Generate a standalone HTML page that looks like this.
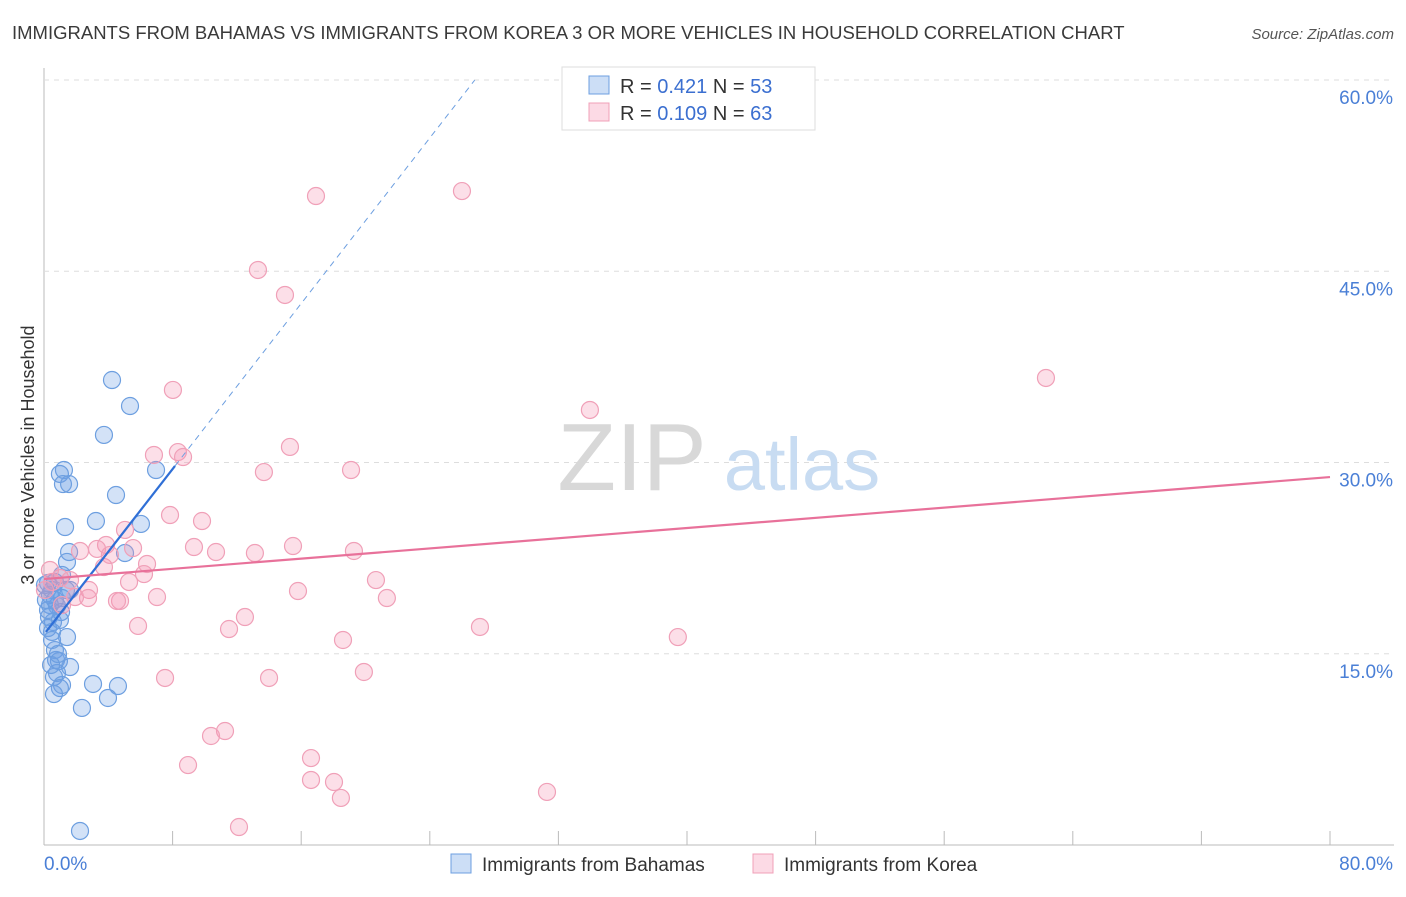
<!DOCTYPE html>
<html><head><meta charset="utf-8"><style>
body{margin:0;background:#fff;font-family:"Liberation Sans",sans-serif}
svg text{font-family:"Liberation Sans",sans-serif}
</style></head><body>
<svg id="chart" width="1406" height="892" viewBox="0 0 1406 892">
<text x="12" y="39" font-size="18.5" fill="#3a3a3a">IMMIGRANTS FROM BAHAMAS VS IMMIGRANTS FROM KOREA 3 OR MORE VEHICLES IN HOUSEHOLD CORRELATION CHART</text>
<text x="1394" y="39" font-size="15" fill="#555" font-style="italic" text-anchor="end">Source: ZipAtlas.com</text>
<g id="grid"></g>
<g>
<text x="632" y="490" font-size="96" fill="#d8d8d8" font-family="Liberation Serif" text-anchor="middle">ZIP</text>
<text x="802" y="490" font-size="74" fill="#c8dcf2" text-anchor="middle">atlas</text>
</g>
<g id="pts"></g>
<g id="lines"></g>
<text transform="translate(34,455) rotate(-90)" font-size="18" fill="#333" text-anchor="middle">3 or more Vehicles in Household</text>
<g>
<rect x="562" y="67" width="253" height="63" fill="#fff" stroke="#ddd"/>
<rect x="589" y="76" width="20" height="18" fill="rgba(110,160,230,0.35)" stroke="#6d9fe0"/>
<text x="620" y="93" font-size="20" fill="#333">R = <tspan fill="#3b6fd0">0.421</tspan>   N = <tspan fill="#3b6fd0">53</tspan></text>
<rect x="589" y="103" width="20" height="18" fill="rgba(245,150,180,0.35)" stroke="#f0a0b8"/>
<text x="620" y="120" font-size="20" fill="#333">R = <tspan fill="#3b6fd0">0.109</tspan>   N = <tspan fill="#3b6fd0">63</tspan></text>
</g>
<g>
<rect x="451" y="854" width="20" height="19" fill="rgba(110,160,230,0.35)" stroke="#6d9fe0"/>
<text x="482" y="871" font-size="19" fill="#333">Immigrants from Bahamas</text>
<rect x="753" y="854" width="20" height="19" fill="rgba(245,150,180,0.35)" stroke="#f0a0b8"/>
<text x="784" y="871" font-size="19" fill="#333">Immigrants from Korea</text>
</g>
</svg>
<script>
const yTicks=[15,30,45,60];
const xLabels=[0,80];
const blueX=[4.23,5.35,3.73,1.24,0.99,6.97,1.18,1.56,4.48,3.23,6.03,1.31,1.56,5.04,1.43,0.25,0.68,0.5,1.62,1.12,0.37,0.81,1.06,0.31,0.56,0.25,0.5,1.43,0.68,0.75,0.93,1.62,0.81,0.62,1.12,0.99,3.05,4.6,0.62,3.98,2.36,2.24,0.25,0.37,0.99,0.87,0.12,0.5,1.12,0.06,0.68,0.44,1.37];
const blueY=[36.47,34.43,32.16,29.41,29.1,29.41,28.31,28.31,27.45,25.41,25.18,24.94,22.98,22.9,22.2,20.55,20.63,20,20,19.37,18.82,18.75,18.27,17.88,17.49,17.02,16.71,16.31,15.29,14.51,14.43,13.96,13.49,13.18,12.55,12.31,12.63,12.47,11.84,11.53,10.75,1.1,18.43,19.61,17.65,14.98,19.22,16.08,21.18,20.39,19.22,14.12,20];
const pinkX=[16.92,26,13.31,14.99,62.33,8.02,33.96,15.3,8.33,6.84,8.65,13.68,19.1,7.84,9.83,5.04,3.86,5.54,9.33,15.49,10.7,13.12,19.28,3.3,2.24,6.41,3.73,6.22,20.65,1,0.5,1.62,2.8,5.29,15.8,2.74,7.03,21.33,4.73,4.54,12.5,5.85,11.51,27.12,18.6,39.43,19.9,7.53,14,11.26,10.39,8.96,16.61,16.61,18.04,18.47,31.29,12.13,0.37,0.06,1.93,1.12,4.1];
const pinkY=[50.9,51.29,45.1,43.14,36.63,35.69,34.12,31.22,30.82,30.59,30.43,29.25,29.41,25.88,25.41,24.71,23.53,23.29,23.37,23.45,22.98,22.9,23.06,23.22,23.06,22.04,21.8,21.25,20.78,20.94,20.63,20.78,20,20.63,19.92,19.37,19.45,19.37,19.14,19.14,17.88,17.18,16.94,17.1,16.08,16.31,13.57,13.1,13.1,8.94,8.55,6.27,6.82,5.1,4.94,3.69,4.16,1.41,21.57,20,19.45,18.82,22.75];
const blueTrend=[[0.12,16.71],[8.15,29.73],[26.8,60]];
const pinkTrend=[[0,20.86],[80,28.86]];
const NS="http://www.w3.org/2000/svg";
const sx=v=>44+v*1286/80, sy=v=>845-v*12.75;
function mk(t,a,p){const e=document.createElementNS(NS,t);for(const k in a)e.setAttribute(k,a[k]);p.appendChild(e);return e;}
const grid=document.getElementById('grid');
let ax=mk('line',{x1:44,y1:68,x2:44,y2:845,stroke:'#bbb'},grid);


let bx=mk('line',{x1:44,y1:845,x2:1394,y2:845,stroke:'#bbb'},grid);


for(let i=0;i<=10;i++){const x=sx(i*8);
 const t=mk('line',{x1:x,y1:831,x2:x,y2:845,stroke:'#bbb'},grid);
 
 }
yTicks.forEach(v=>{const y=sy(v);
 const g=mk('line',{x1:44,y1:y,x2:1394,y2:y,stroke:'#ddd','stroke-dasharray':'5,5'},grid);
 
 
 const t=mk('text',{x:1393,y:y+24,'font-size':19,fill:'#4a7fd6','text-anchor':'end'},grid);
 t.textContent=v.toFixed(1)+'%';
 
 });
xLabels.forEach((v,i)=>{const t=mk('text',{x:i?1393:44,y:870,'font-size':19,fill:'#4a7fd6','text-anchor':i?'end':'start'},grid);
 t.textContent=v.toFixed(1)+'%';
 
 });
const pts=document.getElementById('pts');
blueX.forEach((x,i)=>{const c=mk('circle',{cx:sx(x),cy:sy(blueY[i]),r:8.5,fill:'rgba(110,160,230,0.3)',stroke:'#6d9fe0','stroke-width':1.2},pts);
 
 });
pinkX.forEach((x,i)=>{const c=mk('circle',{cx:sx(x),cy:sy(pinkY[i]),r:8.5,fill:'rgba(245,150,180,0.3)',stroke:'#f0a0b8','stroke-width':1.2},pts);
 
 });
const lines=document.getElementById('lines');
let l1=mk('line',{x1:sx(blueTrend[0][0]),y1:sy(blueTrend[0][1]),x2:sx(blueTrend[1][0]),y2:sy(blueTrend[1][1]),stroke:'#2f6fd6','stroke-width':2.2},lines);


let l2=mk('line',{x1:sx(blueTrend[1][0]),y1:sy(blueTrend[1][1]),x2:sx(blueTrend[2][0]),y2:sy(blueTrend[2][1]),stroke:'#6d9fe0','stroke-width':1,'stroke-dasharray':'6,5'},lines);


let l3=mk('line',{x1:sx(pinkTrend[0][0]),y1:sy(pinkTrend[0][1]),x2:sx(pinkTrend[1][0]),y2:sy(pinkTrend[1][1]),stroke:'#e8719a','stroke-width':2.2},lines);


</script>
</body></html>
